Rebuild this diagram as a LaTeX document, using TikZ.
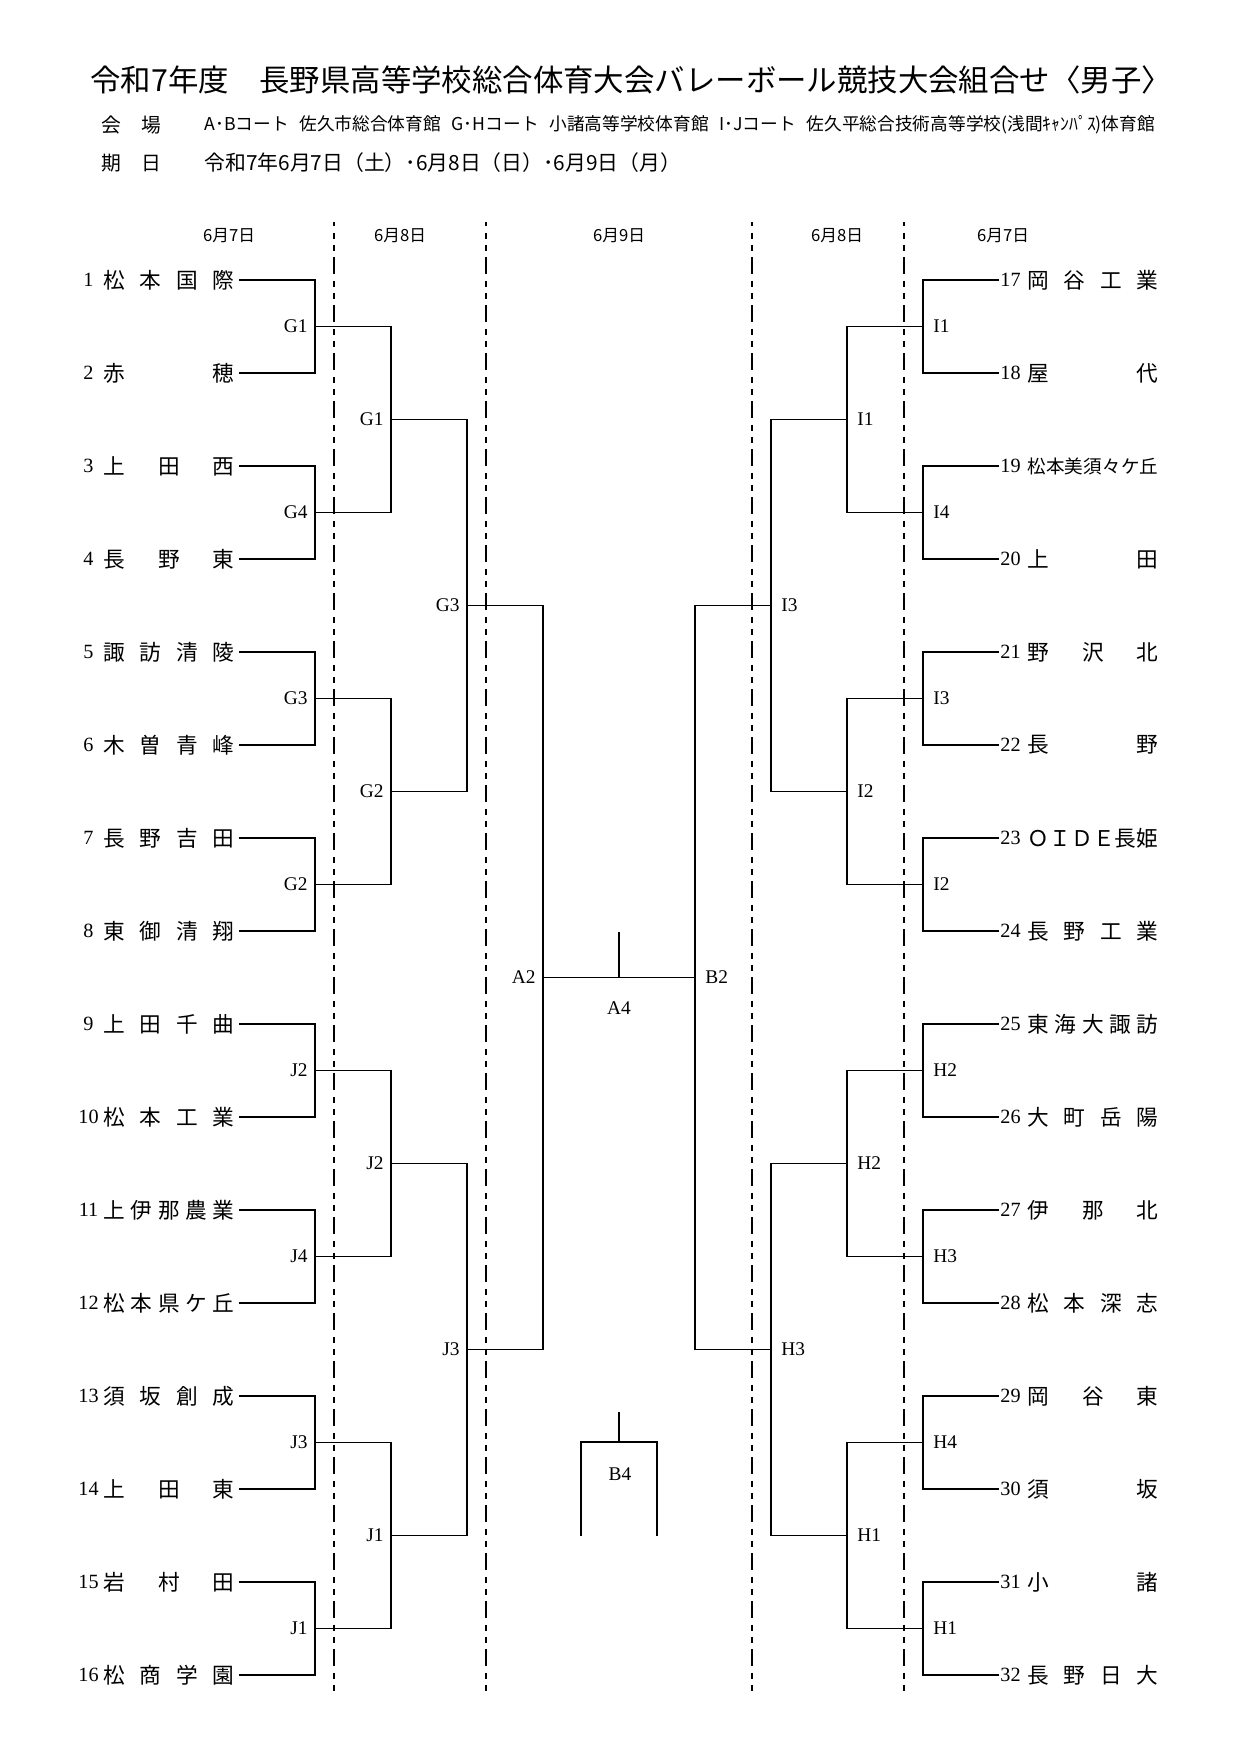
\documentclass[tikz,border=0pt]{standalone}
\usepackage{fontspec}
\setmainfont{Liberation Serif}
\newfontfamily\jpfont{Noto Sans CJK JP}
\newlength\namew \setlength\namew{62.9pt}
\newcommand\mytitlefont{\jpfont\fontsize{14.6}{16}\selectfont}
\newcommand\myinfofont{\jpfont\fontsize{9.5}{11}\selectfont}
\newcommand\myvenuefont{\jpfont\fontsize{8.5}{10}\selectfont}
\newcommand\mydatefont{\jpfont\fontsize{10}{11}\selectfont}
\newcommand\myhdrfont{\jpfont\fontsize{8}{9}\selectfont}
\newcommand\mynamefont{\jpfont\fontsize{10.4}{12}\selectfont}
\newcommand\mynumfont{\fontsize{9.7}{11}\selectfont}
\newcommand\mylblfont{\fontsize{9.3}{10}\selectfont}
\newcommand\vsp{\hspace{0.6em}}
\begin{document}
\begin{tikzpicture}[x=0.48pt,y=-0.48pt,
  br/.style={line width=0.7pt},
  dl/.style={line width=0.75pt, dash pattern=on 8.16pt off 3.12pt on 2.88pt off 2.88pt on 2.88pt off 3.12pt, dash phase=6.2pt},
  tname/.style={font=\mynamefont, inner sep=0pt, anchor=west},
  tnum/.style={font=\mynumfont, inner sep=0pt},
  lbl/.style={font=\mylblfont, inner sep=0pt},
  hdr/.style={font=\myhdrfont, inner sep=0pt},
  info/.style={inner sep=0pt, anchor=west},
]
\useasboundingbox (0,0) rectangle (1240,1754);

% ---- header texts
\node[info, font=\mytitlefont] (title) at (90,80) {令和7年度　長野県高等学校総合体育大会バレーボール競技大会組合せ〈男子〉};
\node[info, font=\myinfofont] (kaijo) at (101,125) {会　場};
\node[info, font=\myvenuefont] (venue) at (204,125) {A･Bコート\vsp 佐久市総合体育館\vsp G･Hコート\vsp 小諸高等学校体育館\vsp I･Jコート\vsp 佐久平総合技術高等学校(浅間ｷｬﾝﾊﾟｽ)体育館};
\node[info, font=\myinfofont] (kijitsu) at (101,163) {期　日};
\node[info, font=\mydatefont] (dates) at (204,163) {令和7年6月7日（土）･6月8日（日）･6月9日（月）};

% ---- column headers
\node[hdr] (h1) at (229,236) {6月7日};
\node[hdr] (h2) at (400,236) {6月8日};
\node[hdr] (h3) at (619,236) {6月9日};
\node[hdr] (h4) at (837,236) {6月8日};
\node[hdr] (h5) at (1003,236) {6月7日};

% ---- dashed day separators
\foreach \n/\xx in {1/334,2/486,3/752,4/904}{
  \coordinate (d\n t) at (\xx,222);
  \coordinate (d\n b) at (\xx,1691);
  \draw[dl] (d\n t) -- (d\n b);
}

% ---- left teams
\foreach \i/\nm in {1/{松\hfill 本\hfill 国\hfill 際},2/{赤\hfill 穂},3/{上\hfill 田\hfill 西},4/{長\hfill 野\hfill 東},
  5/{諏\hfill 訪\hfill 清\hfill 陵},6/{木\hfill 曽\hfill 青\hfill 峰},7/{長\hfill 野\hfill 吉\hfill 田},8/{東\hfill 御\hfill 清\hfill 翔},
  9/{上\hfill 田\hfill 千\hfill 曲},10/{松\hfill 本\hfill 工\hfill 業},11/{上\hfill 伊\hfill 那\hfill 農\hfill 業},12/{松\hfill 本\hfill 県\hfill ケ\hfill 丘},
  13/{須\hfill 坂\hfill 創\hfill 成},14/{上\hfill 田\hfill 東},15/{岩\hfill 村\hfill 田},16/{松\hfill 商\hfill 学\hfill 園}}{
  \pgfmathsetmacro\yy{280+93*(\i-1)}
  \node[tnum] (num\i) at (88.5,\yy) {\i};
  \node[tname] (team\i) at (103,\yy) {\makebox[\namew][s]{\nm}};
  \coordinate (s\i) at (239,\yy);
  \coordinate (e\i) at (315,\yy);
}

% ---- right teams
\foreach \i/\nm in {17/{岡\hfill 谷\hfill 工\hfill 業},18/{屋\hfill 代},19/{\fontsize{8.9}{10}\selectfont 松\hfill 本\hfill 美\hfill 須\hfill 々\hfill ケ\hfill 丘},20/{上\hfill 田},
  21/{野\hfill 沢\hfill 北},22/{長\hfill 野},23/{Ｏ\hfill Ｉ\hfill Ｄ\hfill Ｅ\hfill 長\hfill 姫},24/{長\hfill 野\hfill 工\hfill 業},
  25/{東\hfill 海\hfill 大\hfill 諏\hfill 訪},26/{大\hfill 町\hfill 岳\hfill 陽},27/{伊\hfill 那\hfill 北},28/{松\hfill 本\hfill 深\hfill 志},
  29/{岡\hfill 谷\hfill 東},30/{須\hfill 坂},31/{小\hfill 諸},32/{長\hfill 野\hfill 日\hfill 大}}{
  \pgfmathsetmacro\yy{280+93*(\i-17)}
  \node[tnum] (num\i) at (1010.5,\yy) {\i};
  \node[tname] (team\i) at (1027,\yy) {\makebox[\namew][s]{\nm}};
  \coordinate (s\i) at (999,\yy);
  \coordinate (e\i) at (923,\yy);
}

% ---- left round 1
\foreach \k/\lab in {1/G1,2/G4,3/G3,4/G2,5/J2,6/J4,7/J3,8/J1}{
  \pgfmathtruncatemacro\a{2*\k-1}
  \pgfmathtruncatemacro\b{2*\k}
  \pgfmathsetmacro\yy{326.5+186*(\k-1)}
  \coordinate (la\k) at (315,\yy);
  \coordinate (lb\k) at (391,\yy);
  \draw[br] (s\a) -- (e\a) -- (e\b) -- (s\b);
  \node[lbl,anchor=east] (lra\k) at (308,\yy) {\lab};
}
% ---- left round 2
\foreach \j/\lab in {1/G1,2/G2,3/J2,4/J1}{
  \pgfmathtruncatemacro\a{2*\j-1}
  \pgfmathtruncatemacro\b{2*\j}
  \pgfmathsetmacro\yy{419.5+372*(\j-1)}
  \coordinate (ma\j) at (391,\yy);
  \coordinate (mb\j) at (467,\yy);
  \draw[br] (la\a) -- (lb\a) -- (lb\b) -- (la\b);
  \node[lbl,anchor=east] (lrb\j) at (384,\yy) {\lab};
}
% ---- left round 3
\foreach \l/\lab in {1/G3,2/J3}{
  \pgfmathtruncatemacro\a{2*\l-1}
  \pgfmathtruncatemacro\b{2*\l}
  \pgfmathsetmacro\yy{605.5+744*(\l-1)}
  \coordinate (na\l) at (467,\yy);
  \coordinate (nb\l) at (543,\yy);
  \draw[br] (ma\a) -- (mb\a) -- (mb\b) -- (ma\b);
  \node[lbl,anchor=east] (lrc\l) at (460,\yy) {\lab};
}
% ---- left round 4
\draw[br] (na1) -- (nb1) -- (nb2) -- (na2);
\node[lbl,anchor=east] (A2) at (536,977.5) {A2};

% ---- right round 1
\foreach \k/\lab in {1/I1,2/I4,3/I3,4/I2,5/H2,6/H3,7/H4,8/H1}{
  \pgfmathtruncatemacro\a{2*\k+15}
  \pgfmathtruncatemacro\b{2*\k+16}
  \pgfmathsetmacro\yy{326.5+186*(\k-1)}
  \coordinate (Rla\k) at (923,\yy);
  \coordinate (Rlb\k) at (847,\yy);
  \draw[br] (s\a) -- (e\a) -- (e\b) -- (s\b);
  \node[lbl,anchor=west] (rra\k) at (933,\yy) {\lab};
}
% ---- right round 2
\foreach \j/\lab in {1/I1,2/I2,3/H2,4/H1}{
  \pgfmathtruncatemacro\a{2*\j-1}
  \pgfmathtruncatemacro\b{2*\j}
  \pgfmathsetmacro\yy{419.5+372*(\j-1)}
  \coordinate (Rma\j) at (847,\yy);
  \coordinate (Rmb\j) at (771,\yy);
  \draw[br] (Rla\a) -- (Rlb\a) -- (Rlb\b) -- (Rla\b);
  \node[lbl,anchor=west] (rrb\j) at (857,\yy) {\lab};
}
% ---- right round 3
\foreach \l/\lab in {1/I3,2/H3}{
  \pgfmathtruncatemacro\a{2*\l-1}
  \pgfmathtruncatemacro\b{2*\l}
  \pgfmathsetmacro\yy{605.5+744*(\l-1)}
  \coordinate (Rna\l) at (771,\yy);
  \coordinate (Rnb\l) at (695,\yy);
  \draw[br] (Rma\a) -- (Rmb\a) -- (Rmb\b) -- (Rma\b);
  \node[lbl,anchor=west] (rrc\l) at (781,\yy) {\lab};
}
% ---- right round 4
\draw[br] (Rna1) -- (Rnb1) -- (Rnb2) -- (Rna2);
\node[lbl,anchor=west] (B2) at (705,977.5) {B2};

% ---- final
\coordinate (fa) at (543,977.5);
\coordinate (fb) at (695,977.5);
\draw[br] (fa) -- (fb);
\coordinate (a4t) at (619,932);
\coordinate (a4b) at (619,977.5);
\draw[br] (a4t) -- (a4b);
\node[lbl] (A4) at (619,1008) {A4};

% ---- third place
\coordinate (b4t) at (619,1412);
\coordinate (b4m) at (619,1442);
\coordinate (b4l) at (581,1442);
\coordinate (b4r) at (657,1442);
\coordinate (b4lb) at (581,1536);
\coordinate (b4rb) at (657,1536);
\draw[br] (b4t) -- (b4m);
\draw[br] (b4lb) -- (b4l) -- (b4r) -- (b4rb);
\node[lbl] (B4) at (620,1474) {B4};
\end{tikzpicture}
\end{document}
